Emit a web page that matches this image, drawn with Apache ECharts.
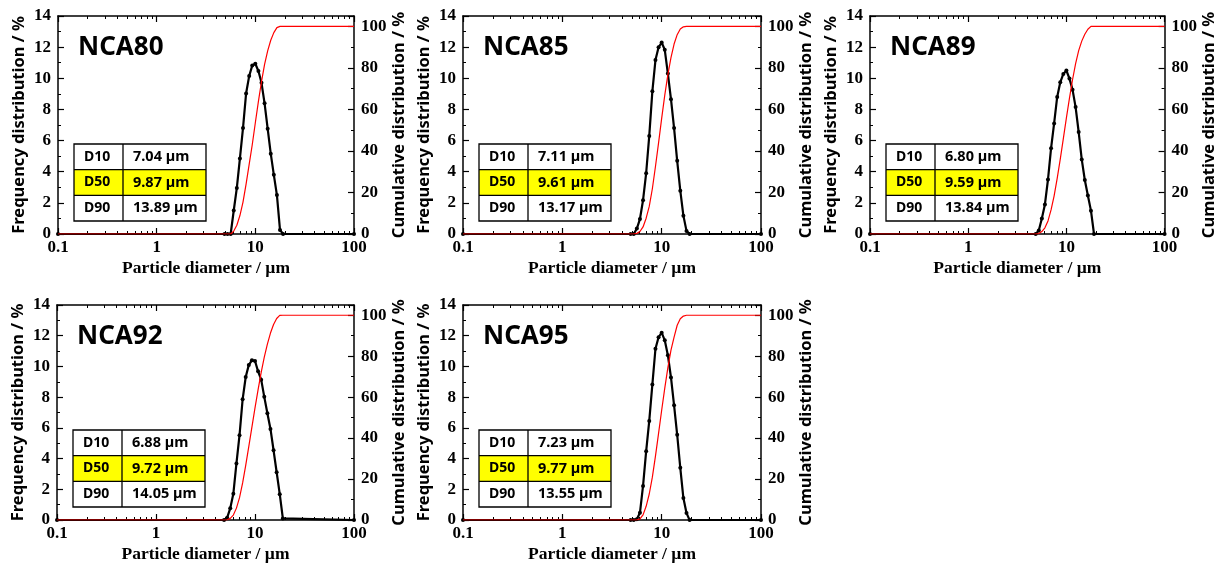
<!DOCTYPE html>
<html>
<head>
<meta charset="utf-8">
<script src="https://cdn.jsdelivr.net/npm/echarts@6/dist/echarts.min.js"></script>
<style>
  html, body { margin: 0; padding: 0; background: #ffffff; }
  #chart { width: 1219px; height: 564px; }
</style>
</head>
<body>
<div id="chart"></div>
<script>
// Particle-size channels (µm); 0.1 and 100 close the measured range
const sizes = [0.1, 4.870, 5.233, 5.623, 6.043, 6.494, 6.978, 7.499, 8.058, 8.660, 9.306,
  10.000, 10.746, 11.548, 12.409, 13.335, 14.330, 15.399, 16.548, 17.783, 19.110, 100];

const samples = ['NCA80', 'NCA85', 'NCA89', 'NCA92', 'NCA95'];

// Frequency distribution (%) per channel
const freqNCA80 = [0, 0, 0, 0, 1.51, 2.96, 4.85, 6.80, 9.02, 10.14, 10.82, 10.93, 10.47, 9.71, 8.39, 6.76, 5.16, 3.80, 2.50, 0.26, 0, 0];
const freqNCA85 = [0, 0, 0, 0.35, 0.96, 2.17, 3.90, 6.30, 9.16, 11.17, 11.99, 12.30, 11.83, 10.30, 8.66, 6.80, 4.70, 2.78, 1.18, 0.20, 0, 0];
const freqNCA89 = [0, 0, 0.22, 1.00, 1.90, 3.50, 5.50, 7.10, 8.80, 9.74, 10.28, 10.50, 9.98, 9.27, 8.15, 6.55, 4.79, 3.47, 2.47, 1.50, 0, 0];
const freqNCA92 = [0, 0, 0.15, 0.76, 1.71, 3.68, 5.52, 7.86, 9.31, 10.10, 10.40, 10.35, 9.68, 9.14, 8.02, 6.95, 5.93, 4.54, 3.11, 1.68, 0.10, 0];
const freqNCA95 = [0, 0, 0, 0.05, 0.47, 2.22, 4.47, 6.45, 8.82, 11.15, 11.90, 12.20, 11.70, 10.73, 9.28, 7.47, 5.55, 3.40, 1.43, 0.45, 0, 0];

// Cumulative distribution (%) per channel
const cumNCA80 = [0, 0, 0, 0, 1.4, 4.2, 8.9, 15.4, 24.0, 33.5, 43.0, 53.6, 63.9, 73.4, 81.7, 88.2, 93.3, 97.0, 99.4, 100, 100, 100];
const cumNCA85 = [0, 0, 0, 0.3, 1.2, 3.4, 7.6, 13.3, 21.8, 32.5, 43.9, 55.7, 66.9, 76.8, 85.0, 91.5, 96.0, 98.7, 99.8, 100, 100, 100];
const cumNCA89 = [0, 0, 0.2, 1.2, 3.0, 6.3, 11.6, 18.4, 26.8, 36.1, 45.9, 55.9, 65.4, 74.3, 82.1, 88.3, 92.9, 96.2, 98.6, 100, 100, 100];
const cumNCA92 = [0, 0, 0.1, 0.8, 2.4, 5.8, 10.9, 18.1, 26.7, 36.0, 45.4, 54.8, 63.7, 72.1, 79.5, 85.9, 91.3, 95.5, 98.4, 99.9, 100, 100];
const cumNCA95 = [0, 0, 0, 0.1, 0.5, 2.5, 6.7, 12.7, 20.9, 31.2, 42.3, 53.6, 64.4, 74.4, 83.0, 89.3, 95.1, 98.3, 99.6, 100, 100, 100];

// Characteristic diameters (µm)
const d10Values = [7.04, 7.11, 6.80, 6.88, 7.23];
const d50Values = [9.87, 9.61, 9.59, 9.72, 9.77];
const d90Values = [13.89, 13.17, 13.84, 14.05, 13.55];

// Tick labels
const freqTicks = { min: 0, max: 14, step: 2 };
const cumTicks = { min: 0, max: 105, step: 20, top: 100 };

const freqSets = [freqNCA80, freqNCA85, freqNCA89, freqNCA92, freqNCA95];
const cumSets = [cumNCA80, cumNCA85, cumNCA89, cumNCA92, cumNCA95];

// Panel plot areas
const panels = [
  { left: 58,  top: 16,  width: 296, height: 218 },
  { left: 463, top: 16,  width: 298, height: 218 },
  { left: 870, top: 16,  width: 296, height: 218 },
  { left: 57,  top: 305, width: 297, height: 215 },
  { left: 463, top: 305, width: 298, height: 215 }
];

const SERIF = '"Liberation Serif", "Times New Roman", serif';
const SANS = '"Noto Sans", "DejaVu Sans", sans-serif';
const BLACK = '#000000';

// log10 positions of the 2..9 minor ticks in each decade
const minorLogTicks = [];
for (let d = -1; d < 2; d++) {
  for (let k = 2; k < 10; k++) minorLogTicks.push(d + Math.log10(k));
}

const grid = [], xAxis = [], yAxis = [], series = [], title = [], graphic = [];

panels.forEach((p, i) => {
  grid.push({ left: p.left, top: p.top, width: p.width, height: p.height, containLabel: false });

  const axisLine = { show: true, onZero: false, lineStyle: { color: BLACK, width: 1.5 } };

  // main log axis with labels
  xAxis.push({
    gridIndex: i, type: 'log', logBase: 10, min: 0.1, max: 100, position: 'bottom',
    name: 'Particle diameter / µm', nameLocation: 'middle', nameGap: 25,
    nameTextStyle: { fontFamily: SERIF, fontWeight: 'bold', fontSize: 17.5, color: BLACK },
    axisLine: axisLine,
    axisTick: { show: true, inside: true, length: 6, lineStyle: { color: BLACK, width: 1.2 } },
    axisLabel: { fontFamily: SERIF, fontWeight: 'bold', fontSize: 17, color: BLACK, margin: 5 },
    splitLine: { show: false }, minorTick: { show: false }
  });
  // minor log ticks, bottom
  xAxis.push({
    gridIndex: i, type: 'value', min: -1, max: 2, position: 'bottom',
    axisLine: { show: false, onZero: false },
    axisTick: { show: true, inside: true, length: 3, customValues: minorLogTicks, lineStyle: { color: BLACK, width: 1 } },
    axisLabel: { show: false }, splitLine: { show: false }
  });
  // top frame with major ticks
  xAxis.push({
    gridIndex: i, type: 'value', min: -1, max: 2, interval: 1, position: 'top',
    axisLine: axisLine,
    axisTick: { show: true, inside: true, length: 6, lineStyle: { color: BLACK, width: 1.2 } },
    axisLabel: { show: false }, splitLine: { show: false }
  });
  // top minor ticks
  xAxis.push({
    gridIndex: i, type: 'value', min: -1, max: 2, position: 'top',
    axisLine: { show: false, onZero: false },
    axisTick: { show: true, inside: true, length: 3, customValues: minorLogTicks, lineStyle: { color: BLACK, width: 1 } },
    axisLabel: { show: false }, splitLine: { show: false }
  });

  yAxis.push({
    gridIndex: i, type: 'value', position: 'left',
    min: freqTicks.min, max: freqTicks.max, interval: freqTicks.step,
    name: 'Frequency distribution / %', nameLocation: 'middle', nameGap: 30, nameRotate: 90,
    nameTextStyle: { fontFamily: SANS, fontWeight: 'bold', fontSize: 16.5, color: BLACK },
    axisLine: axisLine,
    axisTick: { show: true, inside: true, length: 6, lineStyle: { color: BLACK, width: 1.2 } },
    minorTick: { show: true, splitNumber: 2, length: 3, lineStyle: { color: BLACK, width: 1 } },
    axisLabel: { fontFamily: SERIF, fontWeight: 'bold', fontSize: 17, color: BLACK, margin: 7 },
    splitLine: { show: false }
  });
  yAxis.push({
    gridIndex: i, type: 'value', position: 'right',
    min: cumTicks.min, max: cumTicks.max, interval: cumTicks.step,
    name: 'Cumulative distribution / %', nameLocation: 'middle', nameGap: 36, nameRotate: 90,
    nameTextStyle: { fontFamily: SANS, fontWeight: 'bold', fontSize: 16.5, color: BLACK },
    axisLine: axisLine,
    axisTick: { show: true, inside: true, length: 6, lineStyle: { color: BLACK, width: 1.2 } },
    minorTick: { show: true, splitNumber: 2, length: 3, lineStyle: { color: BLACK, width: 1 } },
    axisLabel: {
      fontFamily: SERIF, fontWeight: 'bold', fontSize: 17, color: BLACK, margin: 7,
      formatter: v => (v <= cumTicks.top ? String(v) : '')
    },
    splitLine: { show: false }
  });

  series.push({
    type: 'line', name: samples[i] + ' frequency',
    xAxisIndex: 4 * i, yAxisIndex: 2 * i,
    data: sizes.map((s, j) => [s, freqSets[i][j]]),
    symbol: 'circle', symbolSize: 4, showSymbol: true,
    lineStyle: { color: BLACK, width: 2.2 }, itemStyle: { color: BLACK },
    z: 3, animation: false
  });
  series.push({
    type: 'line', name: samples[i] + ' cumulative',
    xAxisIndex: 4 * i, yAxisIndex: 2 * i + 1,
    data: sizes.map((s, j) => [s, cumSets[i][j]]),
    symbol: 'none', showSymbol: false,
    lineStyle: { color: '#ff0000', width: 1.2 },
    z: 4, animation: false
  });

  title.push({
    text: samples[i], left: p.left + 20, top: p.top + 19, padding: 0,
    textStyle: { fontFamily: SANS, fontWeight: 'bold', fontSize: 26, color: BLACK }
  });

  // D10 / D50 / D90 table
  const tw = 132, th = 77, rh = th / 3, cx = 49;
  const tx = p.left + 16, ty = p.top + p.height - 13 - th;
  const rows = [['D10', d10Values[i]], ['D50', d50Values[i]], ['D90', d90Values[i]]];
  const children = [
    { type: 'rect', shape: { x: 0, y: rh, width: tw, height: rh }, style: { fill: '#ffff00' } },
    { type: 'rect', shape: { x: 0, y: 0, width: tw, height: th }, style: { fill: 'none', stroke: BLACK, lineWidth: 1.3 } },
    { type: 'line', shape: { x1: cx, y1: 0, x2: cx, y2: th }, style: { stroke: BLACK, lineWidth: 1.3 } },
    { type: 'line', shape: { x1: 0, y1: rh, x2: tw, y2: rh }, style: { stroke: BLACK, lineWidth: 1.3 } },
    { type: 'line', shape: { x1: 0, y1: 2 * rh, x2: tw, y2: 2 * rh }, style: { stroke: BLACK, lineWidth: 1.3 } }
  ];
  rows.forEach((r, k) => {
    children.push({
      type: 'text', x: 10, y: rh * k + rh / 2,
      style: { text: r[0], fontFamily: SANS, fontWeight: 'bold', fontSize: 14, fill: BLACK, verticalAlign: 'middle', align: 'left' }
    });
    children.push({
      type: 'text', x: cx + 10, y: rh * k + rh / 2,
      style: { text: r[1].toFixed(2) + ' µm', fontFamily: SANS, fontWeight: 'bold', fontSize: 14.5, fill: BLACK, verticalAlign: 'middle', align: 'left' }
    });
  });
  graphic.push({ type: 'group', x: tx, y: ty, children: children, z: 10 });
});

const chart = echarts.init(document.getElementById('chart'), null, { renderer: 'canvas' });
chart.setOption({
  animation: false,
  backgroundColor: '#ffffff',
  title: title,
  grid: grid,
  xAxis: xAxis,
  yAxis: yAxis,
  series: series,
  graphic: graphic
});
</script>
</body>
</html>
